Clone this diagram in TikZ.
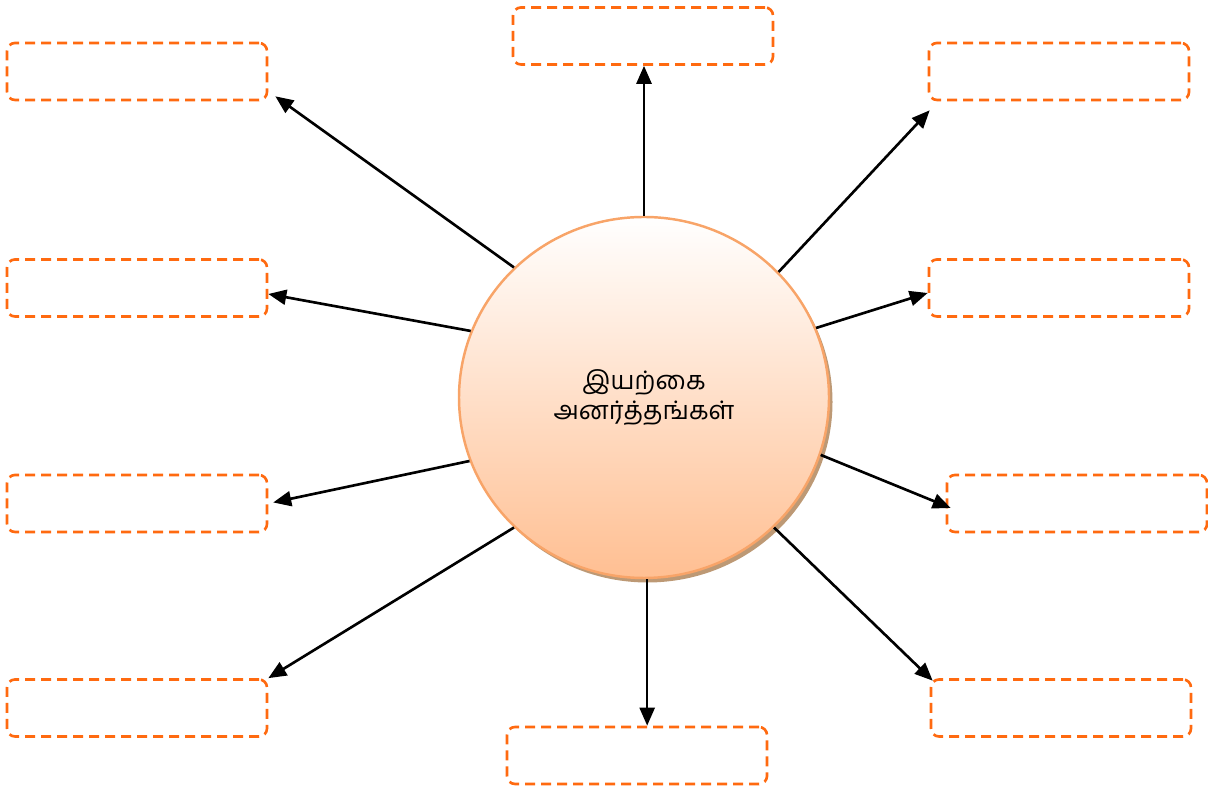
\documentclass[tikz,border=0pt]{standalone}
\usepackage{fontspec}
\newfontfamily\tamilfont[Script=Tamil]{Hind Madurai}
\usepackage{tikz}
\usetikzlibrary{arrows.meta, positioning, shapes.geometric, shadows}
\usepackage{xcolor}
\definecolor{boxorange}{HTML}{FF6A10}
\definecolor{ringorange}{HTML}{F8A468}
\definecolor{peach}{HTML}{FFBF92}
\tikzset{%
	empty box/.style={
		rectangle,
		rounded corners=0.16cm,
		draw=boxorange,
		line width=1.5pt,
		dash pattern=on 0.2cm off 0.12cm,
		minimum width=5.2cm,
		minimum height=1.14cm
	},
	hazard circle/.style={
		ellipse,
		draw=ringorange,
		line width=1.4pt,
		top color=white,
		bottom color=peach,
		minimum width=7.4cm,
		minimum height=7.22cm,
		align=center,
		font=\tamilfont\fontsize{14.5}{17.5}\selectfont,
		drop shadow={shadow xshift=0.07cm, shadow yshift=-0.09cm, fill=brown!70!gray, opacity=0.8}
	},
	spoke/.style={
		-{Triangle[length=0.36cm,width=0.3cm]},
		line width=1.5pt
	},
}
\begin{document}
\begin{tikzpicture}
	\useasboundingbox (0,0) rectangle (24.16,15.74);
	
	% Centre
	\node[hazard circle] (c) at (12.88,7.79) {இயற்கை\\அனர்த்தங்கள்};
	
	% Boxes around the centre
	\node[empty box] (tl) at (2.74,14.31) {};
	\node[empty box] (tp) at (12.86,15.02) {};
	\node[empty box] (tr) at (21.18,14.31) {};
	\node[empty box] (ml) at (2.74,9.98) {};
	\node[empty box] (mr) at (21.18,9.98) {};
	\node[empty box] (ll) at (2.74,5.67) {};
	\node[empty box] (lr) at (21.54,5.67) {};
	\node[empty box] (bl) at (2.74,1.58) {};
	\node[empty box] (bt) at (12.74,0.63) {};
	\node[empty box] (br) at (21.22,1.58) {};
	
	% Arrows from the centre
	\draw[spoke] (c.135) -- ([xshift=0.14cm,yshift=0.1cm]tl.south east);
	\draw[spoke] (c.north) -- (c.north |- tp.south);
	\draw[spoke] (c.43) -- ([xshift=0.04cm,yshift=-0.18cm]tr.south west);
	\draw[spoke] (c.159) -- ([yshift=-0.12cm]ml.east);
	\draw[spoke] (c.22) -- ([yshift=-0.1cm]mr.west);
	\draw[spoke, shorten >=0.1cm] (c.200) -- (ll.east);
	\draw[spoke] (c.342) -- ([xshift=0.1cm,yshift=-0.09cm]lr.west);
	\draw[spoke] (c.225) -- (bl.north east);
	\draw[spoke] (c.271) -- (c.271 |- bt.north);
	\draw[spoke] (c.315) -- ([xshift=0.06cm,yshift=-0.05cm]br.north west);
	
\end{tikzpicture}
\end{document}
